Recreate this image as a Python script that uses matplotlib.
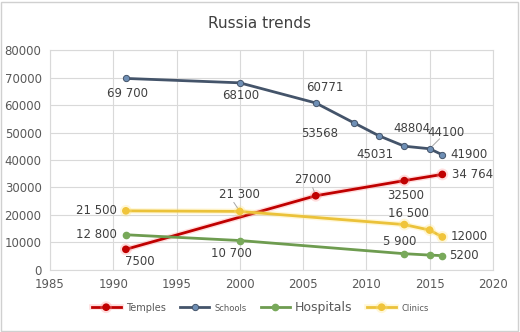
import matplotlib.pyplot as plt
import matplotlib.patheffects as pe

# data
temple_years = [1991, 2006, 2013, 2016]
temples = [7500, 27000, 32500, 34764]
temple_labels = ["7500", "27000", "32500", "34 764"]

school_years = [1991, 2000, 2006, 2009, 2011, 2013, 2015, 2016]
schools = [69700, 68100, 60771, 53568, 48804, 45031, 44100, 41900]
school_labels = ["69 700", "68100", "60771", "53568", "48804", "45031", "44100", "41900"]

hosp_years = [1991, 2000, 2013, 2015, 2016]
hospitals = [12800, 10700, 5900, 5400, 5200]
hosp_labels = ["12 800", "10 700", "5 900", None, "5200"]

clinic_years = [1991, 2000, 2013, 2015, 2016]
clinics = [21500, 21300, 16500, 14500, 12000]
clinic_labels = ["21 500", "21 300", "16 500", None, "12000"]

# label offsets in pixels (dx, dy), plus whether to draw a leader line
temple_off = [(14, -12), (-3, 16), (1, -15), (30, 0)]
school_off = [(2, -15), (1, -13), (9, 15), (-34, -11), (33, 7), (-29, -8), (16, 16), (27, 0)]
hosp_off = [(-29, 0), (-8, -13), (-5, 12), None, (22, 0)]
clinic_off = [(-29, 0), (0, 17), (4, 11), None, (27, 0)]

fig = plt.figure(figsize=(5.2, 3.32), dpi=100)
ax = fig.add_axes([0.096, 0.187, 0.852, 0.662])

text_col = "#404040"
glow = lambda c: [pe.Stroke(linewidth=4, foreground=c, alpha=0.3), pe.Normal()]

ax.plot(temple_years, temples, color="#C00000", lw=2, marker="o", ms=4.5,
        mfc="#C00000", mec="#C00000", label="Temples", path_effects=glow("#FF9090"))
ax.plot(school_years, schools, color="#44546A", lw=2, marker="o", ms=4.5,
        mfc="#6F8FB5", mec="#44546A", mew=0.7, label="Schools")
ax.plot(hosp_years, hospitals, color="#6E9C50", lw=2, marker="o", ms=4.5,
        mfc="#78A95A", mec="#78A95A", label="Hospitals")
ax.plot(clinic_years, clinics, color="#EBC23A", lw=2, marker="o", ms=4.5,
        mfc="#F0C43A", mec="#F0C43A", label="Clinics", path_effects=glow("#FFE680"))

def add_labels(xs, ys, labels, offs):
    for x, y, lab, off in zip(xs, ys, labels, offs):
        if lab is None:
            continue
        ax.annotate(lab, (x, y), xytext=off, textcoords="offset pixels",
                    ha="center", va="center", fontsize=8.5, color=text_col)

add_labels(temple_years, temples, temple_labels, temple_off)
add_labels(school_years, schools, school_labels, school_off)
add_labels(hosp_years, hospitals, hosp_labels, hosp_off)
add_labels(clinic_years, clinics, clinic_labels, clinic_off)

# small leader lines like the excel ones
for x, y, off in [(2015, 44100, (10, 10)), (2000, 21300, (-6, 9)), (2006, 27000, (-3, 8))]:
    ax.annotate("", (x, y), xytext=off, textcoords="offset pixels",
                arrowprops=dict(arrowstyle="-", color="#A6A6A6", lw=0.7, shrinkA=0, shrinkB=3))

ax.set_xlim(1985, 2020)
ax.set_ylim(0, 80000)
ax.set_xticks(range(1985, 2021, 5))
ax.set_yticks(range(0, 80001, 10000))
ax.grid(True, color="#D9D9D9", lw=0.8)
ax.set_axisbelow(True)
for s in ax.spines.values():
    s.set_color("#D9D9D9")
    s.set_linewidth(0.8)
ax.tick_params(length=0, labelsize=8.5, colors="#595959", pad=6)

fig.text(0.5, 0.928, "Russia trends", ha="center", va="center", fontsize=11, color="#404040")

leg = fig.legend(loc="center", bbox_to_anchor=(0.5, 0.075), ncol=4, frameon=False,
                 fontsize=7, handlelength=3, columnspacing=1.5, handletextpad=0.5)
sizes = [7, 6, 9, 6]
for t, sz in zip(leg.get_texts(), sizes):
    t.set_fontsize(sz)
    t.set_color("#595959")

fig.patches.append(plt.Rectangle((0.002, 0.003), 0.994, 0.992, transform=fig.transFigure,
                                 fill=False, edgecolor="#D0D0D0", lw=1))

fig.savefig("out.png", dpi=100)
